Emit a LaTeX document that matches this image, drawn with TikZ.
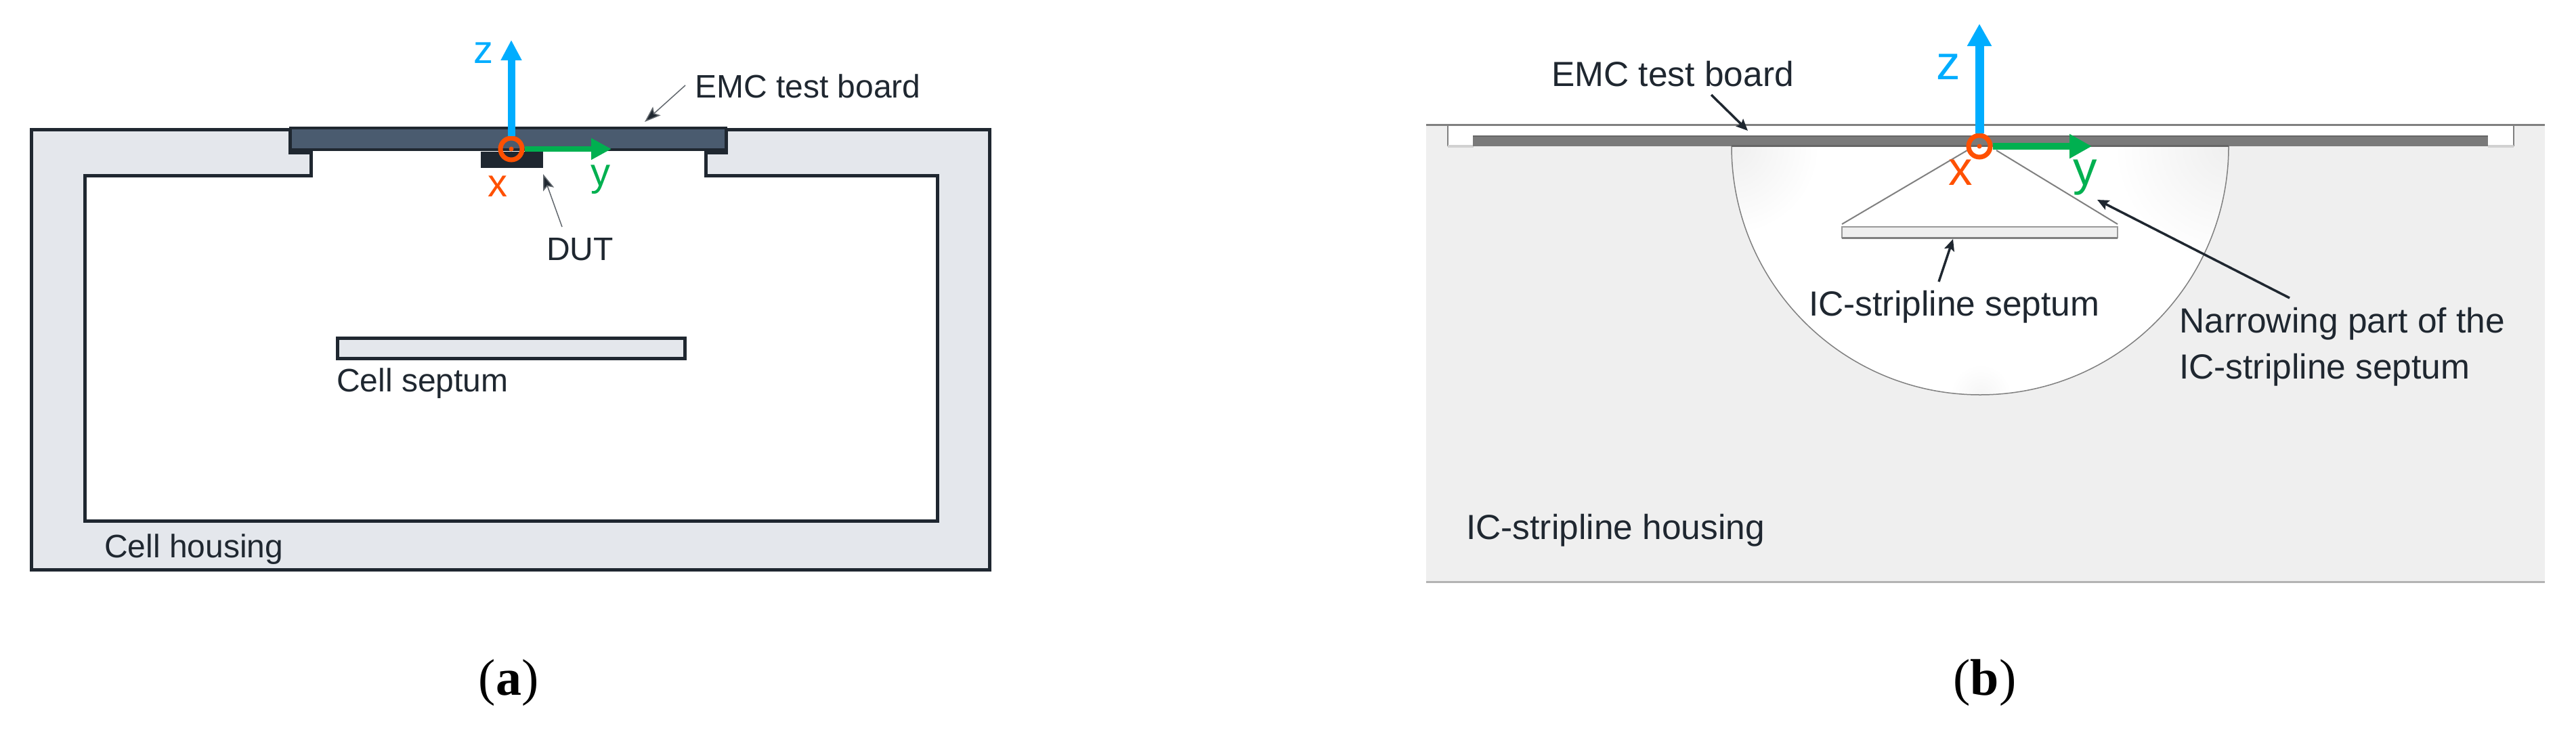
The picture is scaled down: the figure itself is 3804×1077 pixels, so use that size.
\documentclass[tikz,border=0pt]{standalone}
\usepackage{fontspec}
\setmainfont{Liberation Sans}
\newfontfamily\capfont{Liberation Serif}
\usetikzlibrary{positioning,arrows.meta}
\definecolor{inkdark}{HTML}{1F2730}
\definecolor{housinga}{HTML}{E4E7EC}
\definecolor{boarda}{HTML}{4A5B6F}
\definecolor{housingb}{HTML}{EFEFEF}
\definecolor{lineb}{HTML}{808080}
\definecolor{boardb}{HTML}{7A7A7A}
\definecolor{axisz}{HTML}{00ADFF}
\definecolor{axisy}{HTML}{00B050}
\definecolor{axisx}{HTML}{FF5000}
\tikzset{
  labela/.style = {inner sep=0pt, anchor=base west, text=inkdark,
                   font=\fontsize{48}{54}\selectfont},
  labelb/.style = {inner sep=0pt, anchor=base west, text=inkdark, align=left,
                   font=\fontsize{51.5}{68}\selectfont},
  axislbla/.style = {inner sep=0pt, anchor=base, font=\fontsize{58}{60}\selectfont},
  axislblb/.style = {inner sep=0pt, anchor=base, font=\fontsize{71}{74}\selectfont},
  caplbl/.style = {inner sep=0pt, anchor=base, text=black,
                   font=\capfont\fontsize{76}{80}\selectfont},
  ring/.style = {circle, draw=axisx, line width=7pt, minimum size=32pt, inner sep=0pt},
  calla/.style = {line width=1.5pt, draw=inkdark!70,
                  -{Stealth[length=24pt,width=17pt,inset=5pt,fill=inkdark]}},
  callb/.style = {line width=3.5pt, draw=inkdark,
                  -{Stealth[length=17pt,width=15pt,inset=3pt]}},
  outlinea/.style = {draw=inkdark, line width=5pt, fill=housinga},
  outlineb/.style = {draw=lineb, line width=1.5pt}
}

\begin{document}
\begin{tikzpicture}[x=1pt,y=-1pt]
\useasboundingbox (0,0) rectangle (3804,1077);

\draw[outlinea] (46,191) -- (428,191) -- (428,225) -- (459,225) -- (459,259)
  -- (125,259) -- (125,769) -- (1384,769) -- (1384,259) -- (1042,259)
  -- (1042,225) -- (1072,225) -- (1072,191) -- (1461,191) -- (1461,841)
  -- (46,841) -- cycle;
\draw[draw=inkdark, line width=3.5pt, fill=boarda] (429,189) rectangle (1072,221);
\fill[inkdark] (710,224) rectangle (802,248);
\draw[draw=inkdark, line width=5pt, fill=housinga] (498,499) rectangle (1011,529);

\node (origina) [ring] at (755,220) {};
\fill[axisx] (755,220) circle[radius=3.5];
\coordinate (ztipa) at (755,59);
\coordinate (ytipa) at (903,220);
\draw[axisz, line width=11pt, -{Triangle[length=30pt,width=29pt]}] (origina) -- (ztipa);
\draw[axisy, line width=8pt, -{Triangle[length=30pt,width=30pt]}] (origina) -- (ytipa);
\node (za) [axislbla, text=axisz] at (714,93) {z};
\node (xa) [axislbla, text=axisx] at (735,290) {x};
\node (ya) [axislbla, text=axisy] at (887,274) {y};

\node (emca)     [labela] at (1026,144) {EMC test board};
\node (duta)     [labela] at (807,384)  {DUT};
\node (septuma)  [labela] at (497,578)  {Cell septum};
\node (housinga) [labela] at (154,823)  {Cell housing};
\coordinate (emcatail) at (1012,126);
\coordinate (emcatip)  at (952,180);
\coordinate (dutatail) at (830,335);
\coordinate (dutatip)  at (802,257);
\draw[calla] (emcatail) -- (emcatip);
\draw[calla] (dutatail) -- (dutatip);

\node (capa) [caplbl] at (751,1026) {(\textbf{a})};

\fill[housingb] (2106,184) rectangle (3758,859);
\draw[lineb, line width=3pt] (2106,184) -- (3758,184);
\draw[lineb!60, line width=3pt] (2106,859) -- (3758,859);
\fill[white] (2138,186) rectangle (3712,216);
\draw[outlineb] (2138,186) -- (2138,216);
\draw[outlineb] (3712,186) -- (3712,216);
\fill[black!18] (2138,214) rectangle (2176,218);
\fill[black!18] (3674,214) rectangle (3712,218);
\fill[white] (2557,216) arc (180:0:367) -- cycle;
\begin{scope}
  \clip (2557,216) arc (180:0:367) -- cycle;
  \shade[inner color=housingb, outer color=white] (2557,216) circle[radius=130];
  \shade[inner color=housingb, outer color=white] (3291,216) circle[radius=170];
  \shade[inner color=housingb!60, outer color=white] (2925,583) circle[radius=45];
\end{scope}
\draw[outlineb] (2557,216) arc (180:0:367);
\fill[boardb] (2175,200) rectangle (3674,216);
\draw[black!60, line width=2.5pt] (2175,201) -- (3674,201);
\draw[black!60, line width=3pt] (2557,215) -- (3291,215);

\draw[lineb, line width=2pt] (2720,331) -- (2905,222);
\draw[lineb, line width=2pt] (3127,331) -- (2948,222);
\draw[fill=housingb, draw=black!40, line width=2pt] (2720,335) rectangle (3127,351);
\draw[lineb, line width=3pt] (2720,351) -- (3127,351);

\node (originb) [ring] at (2923,216) {};
\fill[axisx] (2923,216) circle[radius=3.5];
\coordinate (ztipb) at (2923,35);
\coordinate (ytipb) at (3089,216);
\draw[axisz, line width=13pt, -{Triangle[length=33pt,width=34pt]}] (originb) -- (ztipb);
\draw[axisy, line width=10pt, -{Triangle[length=33pt,width=34pt]}] (originb) -- (ytipb);
\node (zb) [axislblb, text=axisz] at (2877,117) {z};
\node (xb) [axislblb, text=axisx] at (2895,273) {x};
\node (yb) [axislblb, text=axisy] at (3079,273) {y};

\node (emcb)     [labelb] at (2291,127) {EMC test board};
\node (septumb)  [labelb] at (2671,466) {IC-stripline septum};
\node (narrowb)  [labelb] at (3218,559) {Narrowing part of the\\IC-stripline septum};
\node (housingb) [labelb] at (2165,796) {IC-stripline housing};
\coordinate (emcbtail) at (2527,140);
\coordinate (emcbtip)  at (2581,193);
\coordinate (septbtail) at (2863,416);
\coordinate (septbtip)  at (2884,353);
\coordinate (narrbtail) at (3381,440);
\coordinate (narrbtip)  at (3097,295);
\draw[callb] (emcbtail) -- (emcbtip);
\draw[callb] (septbtail) -- (septbtip);
\draw[callb] (narrbtail) -- (narrbtip);

\node (capb) [caplbl] at (2931,1026) {(\textbf{b})};

\end{tikzpicture}
\end{document}
